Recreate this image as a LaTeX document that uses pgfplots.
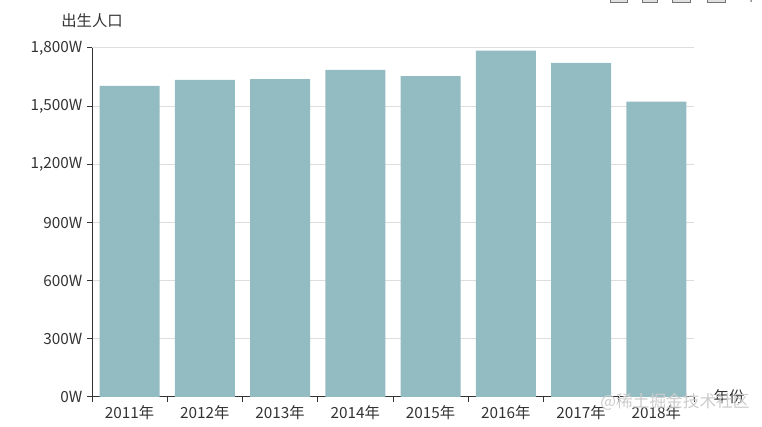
\documentclass[border=0pt]{standalone}
\usepackage{pgfplots}
\pgfplotsset{compat=1.18}
\usepackage{fontspec}
\setmainfont{Noto Sans CJK SC}
\definecolor{barcol}{HTML}{93BCC2}
\definecolor{txt}{HTML}{333333}
\definecolor{gridc}{HTML}{DDDDDD}
\def\px{0.75pt}

\pgfplotstableread{
x births
0 1604
1 1635
2 1640
3 1687
4 1655
5 1786
6 1723
7 1523
}\births

\begin{document}
\begin{tikzpicture}
\useasboundingbox (0,0) rectangle (762*\px, 427*\px);
\begin{axis}[
    at={(92*\px, 30*\px)}, anchor=south west,
    scale only axis,
    width=602*\px, height=349*\px,
    xmin=-0.5, xmax=7.5,
    ymin=0, ymax=1800,
    axis x line=bottom, axis y line=left,
    axis line style={-, draw=txt, line width=0.75pt},
    xtick={0,...,7},
    xticklabels={2011年,2012年,2013年,2014年,2015年,2016年,2017年,2018年},
    xtick style={draw=none},
    minor xtick={-0.5,0.5,...,7.5},
    minor x tick style={draw=txt, line width=0.75pt},
    minor tick length=5*\px,
    ytick={0,300,...,1800},
    yticklabels={0W,300W,600W,900W,{1,200W},{1,500W},{1,800W}},
    ytick style={draw=txt, line width=0.75pt},
    major tick length=5*\px,
    tick align=outside,
    ymajorgrids=true,
    grid style={draw=gridc, line width=0.75pt},
    ticklabel style={font=\fontsize{11.5}{13}\selectfont, text=txt},
    xticklabel style={yshift=1pt},
    yticklabel style={xshift=0pt},
    ybar, bar width=0.8,
    clip=false,
]
\addplot[fill=barcol, draw=none] table[x=x, y=births] {\births};
\end{axis}
\node[text=txt, font=\fontsize{11.5}{13}\selectfont] at (92*\px, 406*\px) {出生人口};
\node[text=txt, font=\fontsize{11.5}{13}\selectfont] at (729*\px, 30*\px) {年份};
\node[text=black!20, font=\fontsize{12.5}{14}\selectfont] at (675*\px, 25*\px) {@稀土掘金技术社区};
\foreach \a/\b in {610/627, 642/657, 672/690, 707/725}
  \filldraw[draw=black!55, fill=black!12, line width=0.75pt] (\a*\px, 424*\px) rectangle (\b*\px, 429*\px);
\fill[black!55] (751*\px, 426*\px) circle (1*\px);
\end{tikzpicture}
\end{document}
